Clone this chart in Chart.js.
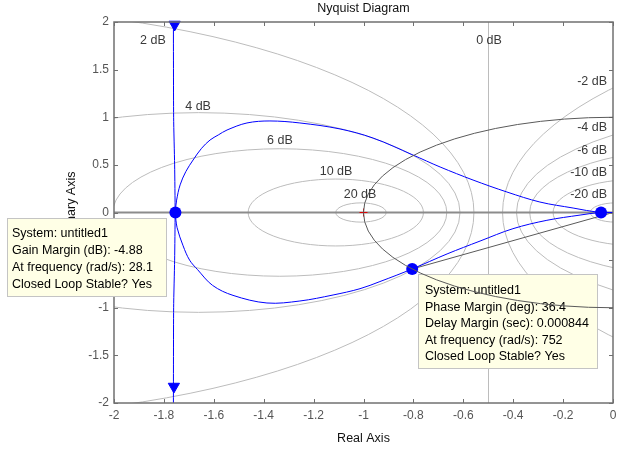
<!DOCTYPE html>
<html>
<head>
<meta charset="utf-8">
<script src="https://cdn.jsdelivr.net/npm/chart.js@4.4.1/dist/chart.umd.min.js"></script>
<style>
  html, body { margin: 0; padding: 0; background: #ffffff; }
  #wrap { width: 628px; height: 449px; }
</style>
</head>
<body>
<div id="wrap"><canvas id="c" width="628" height="449"></canvas></div>
<script>
// ---------------- DATA ----------------
const xTicks = [-2, -1.8, -1.6, -1.4, -1.2, -1, -0.8, -0.6, -0.4, -0.2, 0];
const xTickLabels = ['-2', '-1.8', '-1.6', '-1.4', '-1.2', '-1', '-0.8', '-0.6', '-0.4', '-0.2', '0'];
const yTicks = [-2, -1.5, -1, -0.5, 0, 0.5, 1, 1.5, 2];
const yTickLabels = ['-2', '-1.5', '-1', '-0.5', '0', '0.5', '1', '1.5', '2'];

// Nyquist curve, upper branch (from origin to the gain-margin crossing)
const upperRe = [0, -0.052, -0.160, -0.293, -0.425, -0.561, -0.693, -0.802, -0.962, -1.094, -1.255, -1.375, -1.467, -1.547, -1.582, -1.615, -1.649, -1.683, -1.712, -1.735, -1.749, -1.755];
const upperIm = [0, 0, 0.047, 0.110, 0.215, 0.341, 0.478, 0.604, 0.782, 0.877, 0.940, 0.961, 0.940, 0.866, 0.814, 0.761, 0.674, 0.551, 0.430, 0.290, 0.130, 0];
// lower branch (from the gain-margin crossing back to origin)
const lowerRe = [-1.755, -1.747, -1.723, -1.697, -1.665, -1.605, -1.523, -1.387, -1.255, -1.122, -1.014, -0.934, -0.805, -0.665, -0.533, -0.401, -0.265, -0.132, -0.052, 0];
const lowerIm = [0, -0.160, -0.350, -0.500, -0.600, -0.765, -0.870, -0.950, -0.929, -0.866, -0.800, -0.725, -0.593, -0.435, -0.300, -0.170, -0.082, -0.027, 0, 0];
// near-vertical branch
const vertRe = [-1.762, -1.761, -1.757, -1.755, -1.757, -1.761, -1.762];
const vertIm = [2.2, 1.0, 0.5, 0, -0.5, -1.0, -2.2];
// direction arrows
const arrowRe = [-1.757, -1.760];
const arrowIm = [1.974, -1.827];
// extra real-axis marker
const markerRe = [-0.048];
const markerIm = [0];

// margins
const gainMarginDb = -4.88;
const gmFreq = 28.1;
const phaseMarginDeg = 36.4;
const delayMargin = 0.000844;
const pmFreq = 752;
const systemName = 'untitled1';

// M-circle levels (dB) and their label texts
const mLevelsDb = [-20, -10, -6, -4, -2, 0, 2, 4, 6, 10, 20];
const mLabels = ['-20 dB', '-10 dB', '-6 dB', '-4 dB', '-2 dB', '0 dB', '2 dB', '4 dB', '6 dB', '10 dB', '20 dB'];

// ---------------- LAYOUT / STYLE ----------------
const FONT = '"Liberation Sans", Arial, Helvetica, sans-serif';
// label anchors in data coordinates (layout only)
const mLabelAnchor = {
  '-20 dB': { x: -0.024, y: 0.194, align: 'right' },
  '-10 dB': { x: -0.024, y: 0.425, align: 'right' },
  '-6 dB': { x: -0.024, y: 0.662, align: 'right' },
  '-4 dB': { x: -0.024, y: 0.903, align: 'right' },
  '-2 dB': { x: -0.024, y: 1.390, align: 'right' },
  '0 dB': { x: -0.497, y: 1.82, align: 'center' },
  '2 dB': { x: -1.844, y: 1.82, align: 'center' },
  '4 dB': { x: -1.663, y: 1.128, align: 'center' },
  '6 dB': { x: -1.335, y: 0.761, align: 'center' },
  '10 dB': { x: -1.110, y: 0.436, align: 'center' },
  '20 dB': { x: -1.014, y: 0.194, align: 'center' }
};

const gmPoint = { x: -Math.pow(10, -gainMarginDb / 20), y: 0 };
const pmAng = (180 + phaseMarginDeg) * Math.PI / 180;
const pmPoint = { x: Math.cos(pmAng), y: Math.sin(pmAng) };

const gmBoxLines = [
  'System: ' + systemName,
  'Gain Margin (dB): ' + gainMarginDb,
  'At frequency (rad/s): ' + gmFreq,
  'Closed Loop Stable? Yes'
];
const pmBoxLines = [
  'System: ' + systemName,
  'Phase Margin (deg): ' + phaseMarginDeg,
  'Delay Margin (sec): ' + delayMargin,
  'At frequency (rad/s): ' + pmFreq,
  'Closed Loop Stable? Yes'
];

function pts(xs, ys) { return xs.map((x, i) => ({ x: x, y: ys[i] })); }

const BLUE = '#0000ff';

const gridPlugin = {
  id: 'mgrid',
  beforeDatasetsDraw(chart) {
    const { ctx, chartArea: a, scales: { x: xs, y: ys } } = chart;
    ctx.save();
    ctx.beginPath();
    ctx.rect(a.left, a.top, a.right - a.left, a.bottom - a.top);
    ctx.clip();
    ctx.strokeStyle = '#bcbcbc';
    ctx.lineWidth = 1;
    mLevelsDb.forEach(db => {
      if (db === 0) {
        const px = Math.round(xs.getPixelForValue(-0.5)) + 0.5;
        ctx.beginPath(); ctx.moveTo(px, a.top); ctx.lineTo(px, a.bottom); ctx.stroke();
        return;
      }
      const M = Math.pow(10, db / 20);
      const c = M * M / (1 - M * M);
      const r = Math.abs(M / (1 - M * M));
      const cx = xs.getPixelForValue(c), cy = ys.getPixelForValue(0);
      const rx = Math.abs(xs.getPixelForValue(c + r) - cx);
      const ry = Math.abs(ys.getPixelForValue(r) - cy);
      ctx.beginPath(); ctx.ellipse(cx, cy, rx, ry, 0, 0, Math.PI * 2); ctx.stroke();
    });
    // real axis
    ctx.strokeStyle = '#8c8c8c';
    ctx.lineWidth = 2;
    const y0 = ys.getPixelForValue(0);
    ctx.beginPath(); ctx.moveTo(a.left, y0); ctx.lineTo(a.right, y0); ctx.stroke();
    // phase-margin radius line
    ctx.strokeStyle = '#5a5a5a';
    ctx.lineWidth = 1;
    ctx.beginPath();
    ctx.moveTo(xs.getPixelForValue(0), y0);
    ctx.lineTo(xs.getPixelForValue(pmPoint.x), ys.getPixelForValue(pmPoint.y));
    ctx.stroke();
    ctx.restore();
    // dB labels
    ctx.save();
    ctx.font = '12.5px ' + FONT;
    ctx.fillStyle = '#3a3a3a';
    ctx.textBaseline = 'middle';
    mLabels.forEach(t => {
      const p = mLabelAnchor[t];
      ctx.textAlign = p.align;
      ctx.fillText(t, xs.getPixelForValue(p.x), ys.getPixelForValue(p.y) + 1);
    });
    ctx.restore();
  },
  afterDraw(chart) {
    const { ctx, chartArea: a, scales: { x: xs, y: ys } } = chart;
    ctx.save();
    // frame
    ctx.strokeStyle = '#707070';
    ctx.lineWidth = 1.5;
    ctx.strokeRect(a.left, a.top, a.right - a.left, a.bottom - a.top);
    ctx.lineWidth = 1;
    ctx.beginPath();
    xTicks.forEach(v => {
      const px = Math.round(xs.getPixelForValue(v)) + 0.5;
      ctx.moveTo(px, a.bottom); ctx.lineTo(px, a.bottom - 4);
      ctx.moveTo(px, a.top); ctx.lineTo(px, a.top + 4);
    });
    yTicks.forEach(v => {
      const py = Math.round(ys.getPixelForValue(v)) + 0.5;
      ctx.moveTo(a.left, py); ctx.lineTo(a.left + 4, py);
      ctx.moveTo(a.right, py); ctx.lineTo(a.right - 4, py);
    });
    ctx.stroke();
    // titles
    ctx.fillStyle = '#111';
    ctx.font = '12.5px ' + FONT;
    ctx.textAlign = 'center';
    ctx.textBaseline = 'alphabetic';
    const cxm = (a.left + a.right) / 2;
    ctx.fillText('Nyquist Diagram', cxm, 12);
    ctx.fillText('Real Axis', cxm, 442);
    ctx.save();
    ctx.translate(72, (a.top + a.bottom) / 2);
    ctx.rotate(-Math.PI / 2);
    ctx.textBaseline = 'middle';
    ctx.fillText('Imaginary Axis', 0, 0);
    ctx.restore();
    // data tip boxes
    function box(x0, y0, w, h, lines, tx, ty, dy) {
      ctx.fillStyle = 'rgb(255,255,230)';
      ctx.fillRect(x0, y0, w, h);
      ctx.strokeStyle = '#c4c4c4';
      ctx.lineWidth = 1;
      ctx.strokeRect(x0 + 0.5, y0 + 0.5, w - 1, h - 1);
      ctx.fillStyle = '#000';
      ctx.font = '12.5px ' + FONT;
      ctx.textAlign = 'left';
      ctx.textBaseline = 'middle';
      lines.forEach((t, i) => ctx.fillText(t, tx, ty + i * dy));
    }
    box(7, 218, 160, 79, gmBoxLines, 12, 234, 16.7);
    box(418, 274, 180, 95, pmBoxLines, 425, 291, 16.5);
    // unit circle (left half) drawn on top
    ctx.save();
    ctx.beginPath();
    ctx.rect(a.left, a.top, a.right - a.left, a.bottom - a.top);
    ctx.clip();
    ctx.strokeStyle = '#5a5a5a';
    ctx.lineWidth = 1;
    const ox = xs.getPixelForValue(0), oy = ys.getPixelForValue(0);
    const rx = Math.abs(xs.getPixelForValue(1) - ox), ry = Math.abs(ys.getPixelForValue(1) - oy);
    ctx.beginPath();
    ctx.ellipse(ox, oy, rx, ry, 0, Math.PI / 2, Math.PI * 1.5);
    ctx.stroke();
    ctx.restore();
    ctx.restore();
  }
};

const ctx = document.getElementById('c').getContext('2d');
new Chart(ctx, {
  type: 'scatter',
  data: {
    datasets: [
      { data: pts(upperRe, upperIm), showLine: true, borderColor: BLUE, borderWidth: 1, pointRadius: 0, tension: 0.35, fill: false },
      { data: pts(lowerRe, lowerIm), showLine: true, borderColor: BLUE, borderWidth: 1, pointRadius: 0, tension: 0.35, fill: false },
      { data: pts(vertRe, vertIm), showLine: true, borderColor: BLUE, borderWidth: 1, pointRadius: 0, tension: 0.2, fill: false },
      { data: pts(arrowRe, arrowIm), showLine: false, pointStyle: 'triangle', rotation: 180, pointRadius: 6.5, backgroundColor: BLUE, borderColor: BLUE, borderWidth: 1, clip: 8 },
      { data: [{ x: -1, y: 0 }], showLine: false, pointStyle: 'cross', pointRadius: 4, borderColor: '#e00000', borderWidth: 1 },
      { data: [gmPoint, pmPoint].concat(pts(markerRe, markerIm)), showLine: false, pointStyle: 'circle', pointRadius: 6, backgroundColor: BLUE, borderColor: BLUE, borderWidth: 0, clip: 8 }
    ]
  },
  options: {
    responsive: false,
    animation: false,
    events: [],
    layout: { autoPadding: false, padding: { left: 0, right: 15, top: 22, bottom: 0 } },
    plugins: { legend: { display: false }, tooltip: { enabled: false }, title: { display: false } },
    scales: {
      x: {
        type: 'linear', min: -2, max: 0,
        afterFit(s) { s.height = 46; },
        afterBuildTicks(s) { s.ticks = xTicks.map(v => ({ value: v })); },
        grid: { display: false, drawTicks: false },
        border: { display: false },
        ticks: { padding: 5, color: '#555', font: { family: FONT, size: 12 }, maxRotation: 0, autoSkip: false,
          callback: (v, i) => xTickLabels[i] }
      },
      y: {
        type: 'linear', min: -2, max: 2,
        afterFit(s) { s.width = 114; },
        afterBuildTicks(s) { s.ticks = yTicks.map(v => ({ value: v })); },
        grid: { display: false, drawTicks: false },
        border: { display: false },
        ticks: { padding: 5, color: '#555', font: { family: FONT, size: 12 }, autoSkip: false,
          callback: (v, i) => yTickLabels[i] }
      }
    }
  },
  plugins: [gridPlugin]
});
</script>
</body>
</html>
